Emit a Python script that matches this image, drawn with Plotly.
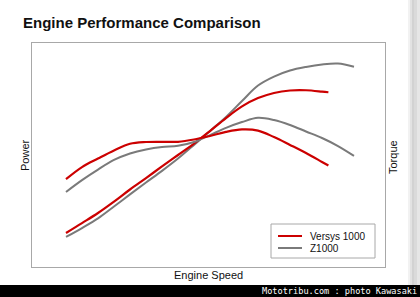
import plotly.graph_objects as go

# Engine speed (rpm)
rpm_versys = [1000, 1500, 2000, 2500, 3000, 3500, 4000, 4500, 5000, 5500, 6000, 6500, 7000, 7500, 8000, 8500, 9000, 9200]
rpm_z1000 = [1000, 1500, 2000, 2500, 3000, 3500, 4000, 4500, 5000, 5500, 6000, 6500, 7000, 7500, 8000, 8500, 9000, 9500, 10000]

# Relative values (0-100 scale)
versys_power = [15.2, 19.6, 24.1, 29.2, 34.6, 39.7, 44.9, 50.0, 55.1, 60.7, 66.5, 71.7, 75.4, 77.7, 78.8, 78.9, 78.3, 78.0]
versys_torque = [39.2, 44.6, 48.4, 52.0, 55.0, 55.8, 55.9, 55.9, 56.9, 58.5, 60.3, 61.4, 60.9, 58.0, 54.5, 50.9, 46.9, 45.3]
z1000_power = [13.4, 17.4, 21.7, 27.0, 32.4, 37.7, 42.9, 48.4, 54.5, 60.7, 67.0, 74.1, 81.0, 85.0, 87.7, 89.3, 90.4, 90.8, 89.4]
z1000_torque = [33.5, 38.8, 43.5, 47.8, 50.7, 52.5, 53.6, 54.1, 55.8, 58.9, 62.1, 64.7, 66.6, 65.6, 63.4, 60.5, 57.6, 54.0, 49.6]

series_names = ["Versys 1000", "Z1000"]

RED = "#cc0000"
GRAY = "#7a7a7a"

W, H = 420, 297
L, R, T, B = 32, 35, 43, 30
pw, ph = W - L - R, H - T - B

def px(x):
    return (x - L) / pw

def py(y):
    return (H - B - y) / ph

fig = go.Figure()
fig.add_trace(go.Scatter(x=rpm_z1000, y=z1000_power, mode="lines", line=dict(color=GRAY, width=2, shape="spline"),
                         name=series_names[1]))
fig.add_trace(go.Scatter(x=rpm_z1000, y=z1000_torque, mode="lines", line=dict(color=GRAY, width=2, shape="spline"),
                         name=series_names[1], yaxis="y2"))
fig.add_trace(go.Scatter(x=rpm_versys, y=versys_power, mode="lines", line=dict(color=RED, width=2.2, shape="spline"),
                         name=series_names[0]))
fig.add_trace(go.Scatter(x=rpm_versys, y=versys_torque, mode="lines", line=dict(color=RED, width=2.2, shape="spline"),
                         name=series_names[0], yaxis="y2"))

fig.update_layout(
    width=W, height=H,
    margin=dict(l=L, r=R, t=T, b=B),
    paper_bgcolor="white", plot_bgcolor="white",
    font=dict(family="Liberation Sans, Arial, sans-serif", color="#111"),
    xaxis=dict(range=[-62.5, 10968.75], showgrid=False, zeroline=False, showticklabels=False, ticks="",
               showline=True, linecolor="#a8a8a8", linewidth=1, mirror=True),
    yaxis=dict(range=[0, 100], showgrid=False, zeroline=False, showticklabels=False, ticks="",
               showline=True, linecolor="#a8a8a8", linewidth=1, mirror=True),
    yaxis2=dict(range=[0, 100], overlaying="y", side="right", showgrid=False, zeroline=False,
                showticklabels=False, ticks="", showline=False),
    showlegend=False,
)

annotations = [
    dict(text="<b>Engine Performance Comparison</b>", x=px(21), y=py(22), xref="paper", yref="paper",
         xanchor="left", yanchor="middle", showarrow=False, font=dict(size=15, color="#111")),
    dict(text="Engine Speed", x=px(208.5), y=py(275), xref="paper", yref="paper",
         xanchor="center", yanchor="middle", showarrow=False, font=dict(size=11, color="#111")),
    dict(text="Power", x=px(25), y=py(155), xref="paper", yref="paper", textangle=-90,
         xanchor="center", yanchor="middle", showarrow=False, font=dict(size=11, color="#111")),
    dict(text="Torque", x=px(393), y=py(157), xref="paper", yref="paper", textangle=-90,
         xanchor="center", yanchor="middle", showarrow=False, font=dict(size=11, color="#111")),
    dict(text="Mototribu.com : photo Kawasaki", x=px(419), y=py(291), xref="paper", yref="paper",
         xanchor="right", yanchor="middle", showarrow=False,
         font=dict(size=8.6, color="white", family="DejaVu Sans Mono, monospace")),
]

shapes = [
    dict(type="rect", xref="paper", yref="paper", x0=px(0), x1=px(420), y0=py(285), y1=py(297.5),
         fillcolor="black", line=dict(width=0), layer="below"),
]
strips = [(408, 410, "#f2f2f2"), (410, 412, "#e2e2e2"), (412, 414, "#d2d2d2"), (414, 417, "#dadada"), (417, 420, "#e6e6e6")]
for x0, x1, c in strips:
    shapes.append(dict(type="rect", xref="paper", yref="paper", x0=px(x0), x1=px(x1), y0=py(0), y1=py(285),
                       fillcolor=c, line=dict(width=0), layer="below"))

# custom legend box
shapes.append(dict(type="rect", xref="paper", yref="paper", x0=px(271), x1=px(375), y0=py(224), y1=py(258),
                   fillcolor="white", line=dict(color="#a8a8a8", width=1), layer="above"))
for i, (nm, col) in enumerate(zip(series_names, [RED, GRAY])):
    yy = 236 + 12 * i
    shapes.append(dict(type="line", xref="paper", yref="paper", x0=px(278), x1=px(302), y0=py(yy), y1=py(yy),
                       line=dict(color=col, width=2), layer="above"))
    annotations.append(dict(text=nm, x=px(308), y=py(yy), xref="paper", yref="paper", xanchor="left",
                            yanchor="middle", showarrow=False, font=dict(size=10, color="#111")))

fig.update_layout(annotations=annotations, shapes=shapes)

fig.write_html("out.html")
